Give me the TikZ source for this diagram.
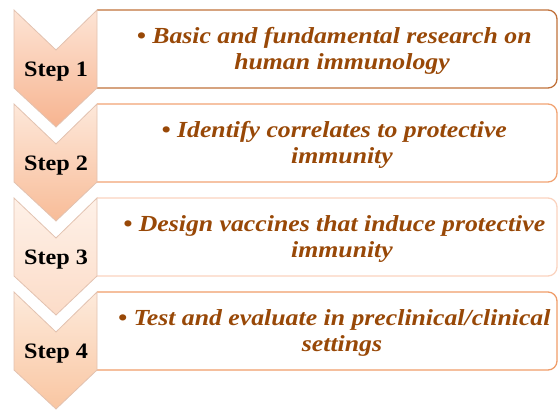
\documentclass[tikz,border=0pt]{standalone}
\usepackage{fontspec}
\setmainfont{Liberation Serif}
\newfontfamily\infofont{Liberation Serif}[FakeStretch=1.12]
\newfontfamily\stepfont{Liberation Serif}[FakeStretch=1.1]
\definecolor{txtbrown}{HTML}{984807}
\definecolor{lineA}{HTML}{C0713A}
\definecolor{lineB}{HTML}{F1A373}
\definecolor{lineC}{HTML}{FAD3BF}
\definecolor{lineD}{HTML}{EF9C69}
\definecolor{chevedge}{HTML}{E2C2B0}
\definecolor{chevAtop}{HTML}{FDE4D5}
\definecolor{chevAbot}{HTML}{F7B490}
\definecolor{chevBtop}{HTML}{FDE8DA}
\definecolor{chevBbot}{HTML}{F8BC98}
\definecolor{chevCtop}{HTML}{FEF1E8}
\definecolor{chevCbot}{HTML}{FCDCC8}
\definecolor{chevDtop}{HTML}{FDEADB}
\definecolor{chevDbot}{HTML}{F9C6A2}

\begin{document}
\begin{tikzpicture}[x=1pt,y=-1pt,
    infobox/.style={line width=1.3pt,rounded corners=9pt},
    chevron/.style={draw=chevedge,line width=0.8pt},
    steplabel/.style={font=\stepfont\fontsize{22}{26}\selectfont\bfseries,text=black},
    infotext/.style={font=\infofont\fontsize{23}{26}\selectfont\bfseries\itshape,text=txtbrown,align=center}]
    \useasboundingbox (0,0) rectangle (558,416);
    \draw[infobox,lineA] (97,10) -- (557,10) -- (557,88) -- (97,88);
    \draw[infobox,lineB] (97,104) -- (557,104) -- (557,182) -- (97,182);
    \draw[infobox,lineC] (97,198) -- (557,198) -- (557,276) -- (97,276);
    \draw[infobox,lineD] (97,292) -- (557,292) -- (557,370) -- (97,370);
    \draw[chevron,top color=chevAtop,bottom color=chevAbot] (14,10) -- (56,50) -- (97,10) -- (97,88) -- (56,127) -- (14,88) -- cycle;
    \draw[chevron,top color=chevBtop,bottom color=chevBbot] (14,104) -- (56,144) -- (97,104) -- (97,182) -- (56,221) -- (14,182) -- cycle;
    \draw[chevron,top color=chevCtop,bottom color=chevCbot] (14,198) -- (56,238) -- (97,198) -- (97,276) -- (56,315) -- (14,276) -- cycle;
    \draw[chevron,top color=chevDtop,bottom color=chevDbot] (14,292) -- (56,332) -- (97,292) -- (97,370) -- (56,409) -- (14,370) -- cycle;
    \node[steplabel] (step1) at (56,72) {Step 1};
    \node[steplabel] (step2) at (56,166) {Step 2};
    \node[steplabel] (step3) at (56,260) {Step 3};
    \node[steplabel] (step4) at (56,354) {Step 4};
    \node[infotext] (text1) at (342,51) {\llap{\textbullet\ }Basic and fundamental research on\\human immunology};
    \node[infotext] (text2) at (342,145) {\llap{\textbullet\ }Identify correlates to protective\\immunity};
    \node[infotext] (text3) at (342,239) {\llap{\textbullet\ }Design vaccines that induce protective\\immunity};
    \node[infotext] (text4) at (342,333) {\llap{\textbullet\ }Test and evaluate in preclinical/clinical\\settings};
\end{tikzpicture}
\end{document}
